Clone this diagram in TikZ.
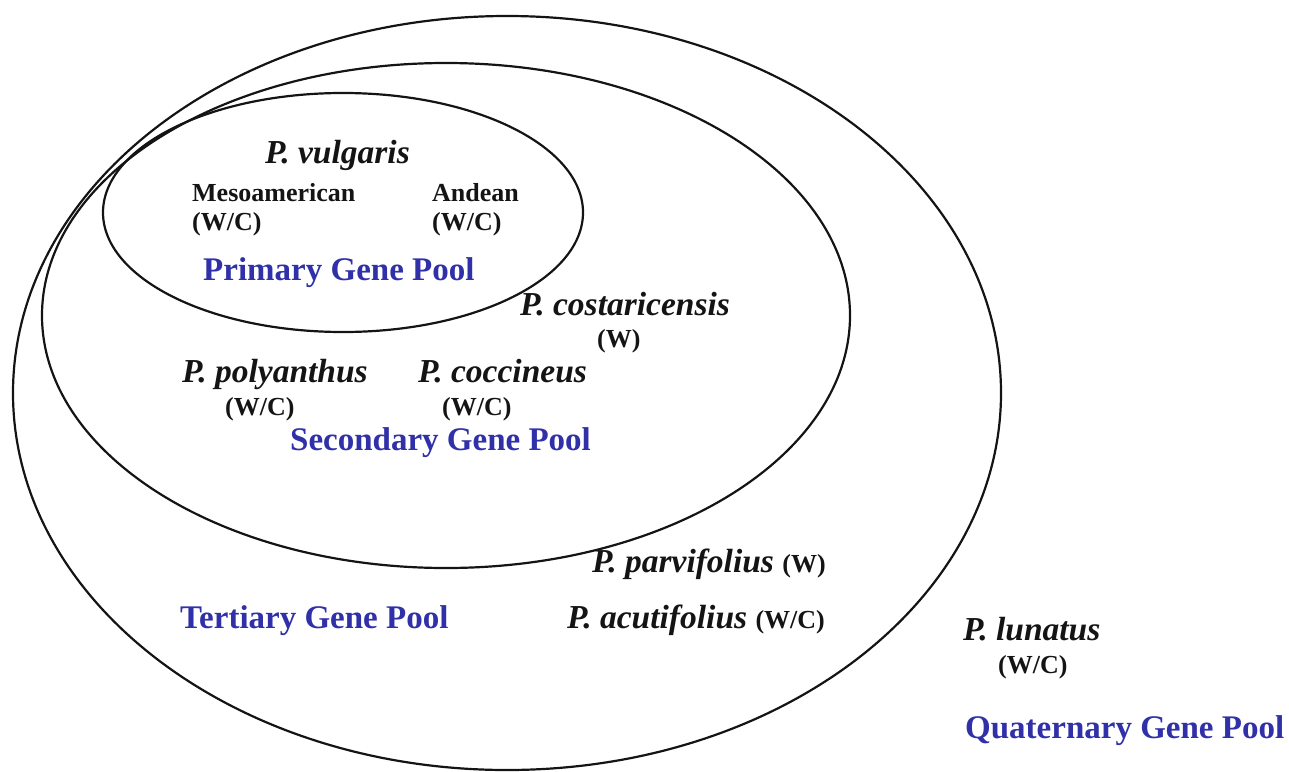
\documentclass[tikz,border=0pt]{standalone}
\usepackage{fontspec}
\setmainfont{Liberation Serif}
\definecolor{poolblue}{RGB}{48,48,168}
\definecolor{ink}{RGB}{20,20,20}
\tikzset{
  ring/.style={draw=ink, line width=2.2pt},
  species/.style={anchor=base west, inner sep=0pt, text=ink, font=\fontsize{33.5}{38}\selectfont\bfseries\itshape},
  status/.style={anchor=base west, inner sep=0pt, text=ink, font=\fontsize{26}{30}\selectfont\bfseries},
  pool/.style={anchor=base west, inner sep=0pt, text=poolblue, font=\fontsize{33}{38}\selectfont\bfseries},
}
\newcommand{\stat}[1]{{\fontsize{26}{30}\selectfont\upshape #1}}
\begin{document}
\begin{tikzpicture}[x=1pt,y=-1pt]
\useasboundingbox (0,0) rectangle (1289,771);
% gene pool rings
\draw[ring] (507,393) ellipse [x radius=494, y radius=377];
\draw[ring] (446,315.5) ellipse [x radius=404, y radius=252.5];
\draw[ring] (343,212.5) ellipse [x radius=240, y radius=119.5];
% primary
\node[species] (vul) at (265,163) {P. vulgaris};
\node[status] (meso) at (192,201) {Mesoamerican};
\node[status] (mesowc) at (192,230) {(W/C)};
\node[status] (and) at (432,201) {Andean};
\node[status] (andwc) at (432,230) {(W/C)};
\node[pool] (prim) at (203,280) {Primary Gene Pool};
% secondary
\node[species] (cos) at (520,315) {P. costaricensis};
\node[status] (cosw) at (597,347) {(W)};
\node[species] (pol) at (182,382) {P. polyanthus};
\node[status] (polwc) at (225,415) {(W/C)};
\node[species] (coc) at (418,382) {P. coccineus};
\node[status] (cocwc) at (442,415) {(W/C)};
\node[pool] (sec) at (290,450) {Secondary Gene Pool};
% tertiary
\node[species] (par) at (592,572) {P. parvifolius \stat{(W)}};
\node[species] (acu) at (567,628) {P. acutifolius \stat{(W/C)}};
\node[pool] (ter) at (180,628) {Tertiary Gene Pool};
% quaternary
\node[species] (lun) at (963,640) {P. lunatus};
\node[status] (lunwc) at (998,673) {(W/C)};
\node[pool] (qua) at (965,738) {Quaternary Gene Pool};
\end{tikzpicture}
\end{document}
